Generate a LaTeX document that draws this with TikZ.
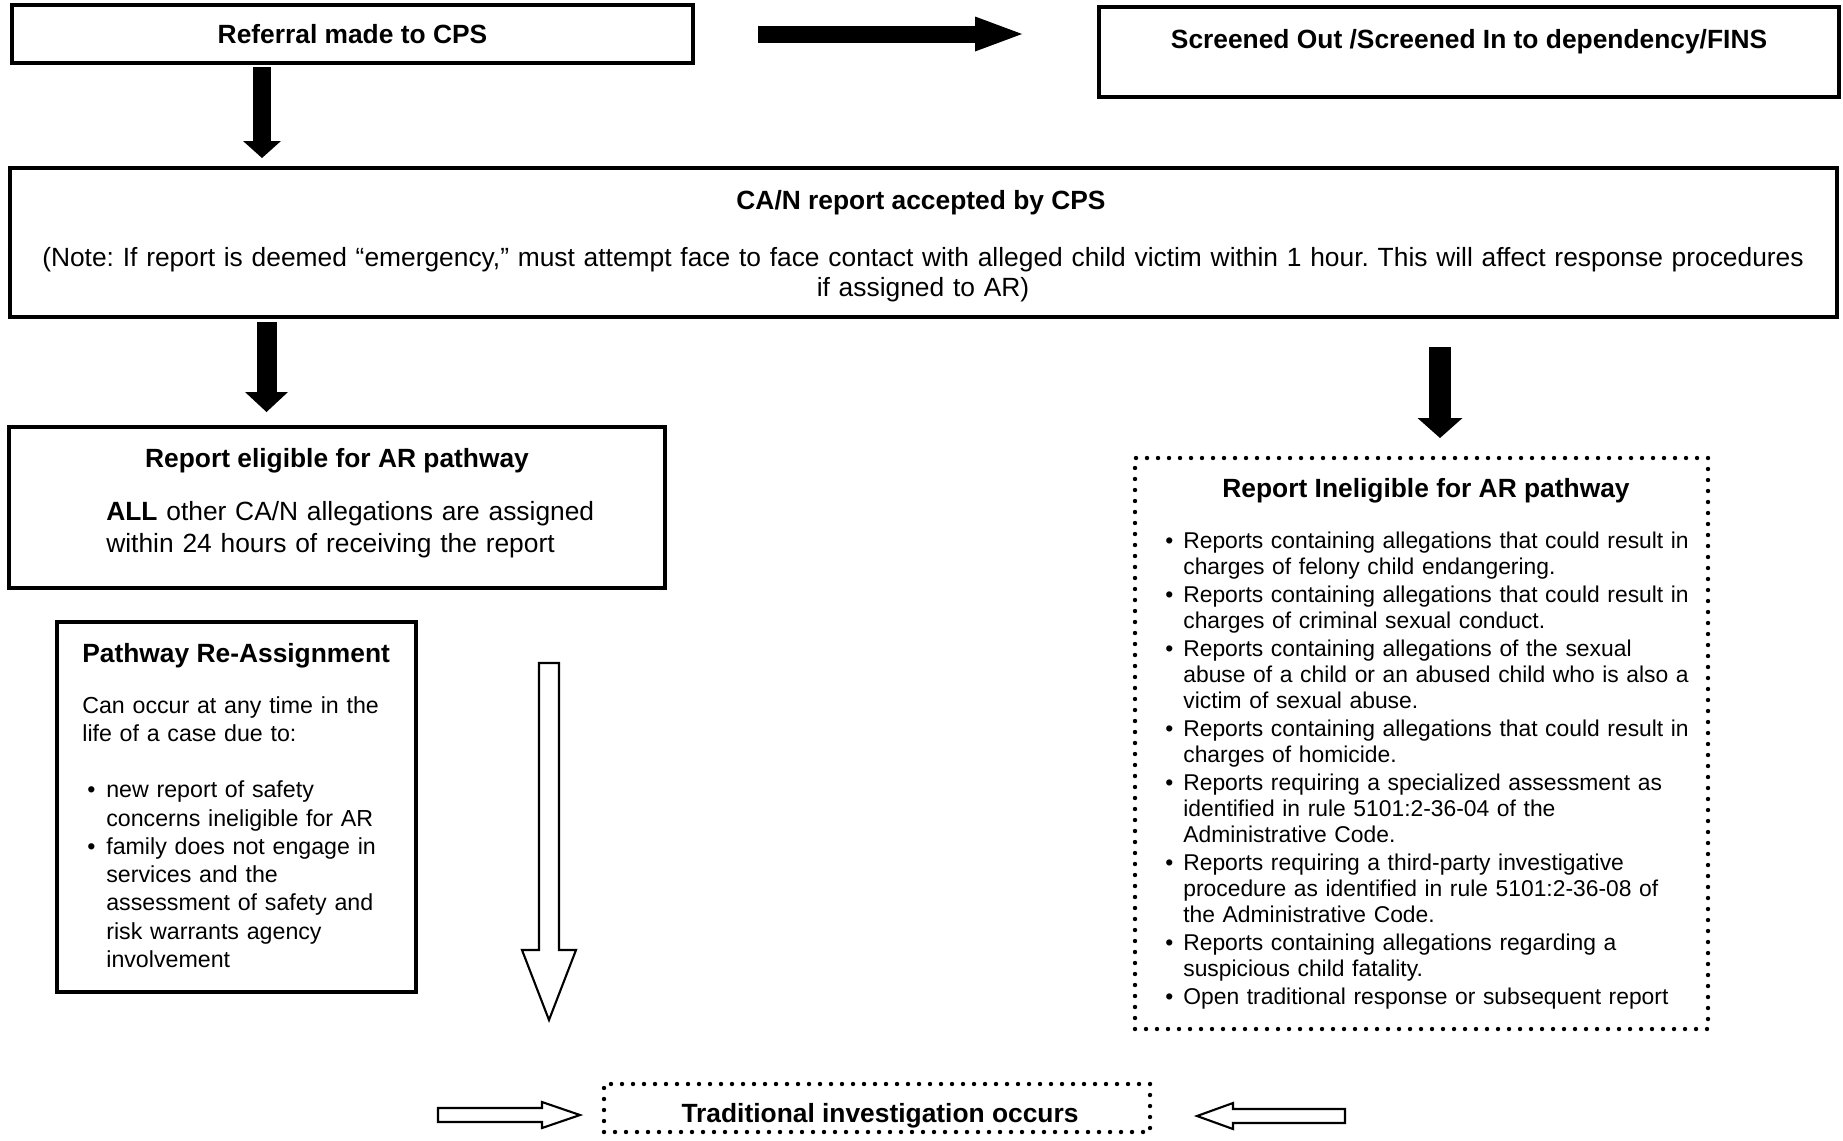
\documentclass[tikz,border=0pt]{standalone}
\usepackage{fontspec}
\setmainfont{Liberation Sans}
\usepackage{tikz}
\usetikzlibrary{arrows.meta}

\newcommand{\lbul}[2][0mm]{\makebox[#2][l]{\hspace{#1}\textbullet}}

\begin{document}
\begin{tikzpicture}[x=0.2mm,y=-0.2mm,
    box node/.style={draw,line width=2.2pt,outer sep=0pt,inner sep=0pt,anchor=north west},
    dot node/.style={draw,line width=2.5pt,line cap=round,dash pattern=on 0pt off 2.2mm,
                     outer sep=0pt,inner sep=0pt,anchor=north west},
    head text/.style={font=\fontsize{15}{18}\selectfont\bfseries,inner sep=0pt,anchor=base},
    body text/.style={inner sep=0pt,anchor=base west,align=left},
    hollow/.style={draw,line width=1.2pt,fill=white,line join=miter}]

  \useasboundingbox (0,0) rectangle (1843,1140);

  % boxes
  \node[box node,minimum width=136.2mm,minimum height=11.6mm,
        font=\fontsize{15}{18}\selectfont\bfseries] (1) at (12,5) {Referral made to CPS};
  \node[box node,minimum width=148mm,minimum height=18mm] (2) at (1099,7) {};
  \node[box node,minimum width=365.4mm,minimum height=29.8mm] (3) at (10,168) {};
  \node[box node,minimum width=131.2mm,minimum height=32.2mm] (4) at (9,427) {};
  \node[dot node,minimum width=114.6mm,minimum height=114.2mm] (5) at (1135,458) {};
  \node[box node,line width=2.8pt,minimum width=71.8mm,minimum height=74mm] (6) at (57,622) {};
  \node[dot node,minimum width=109.2mm,minimum height=9.6mm] (7) at (604,1084) {};

  % texts
  \node[head text] (2a) at (1469,48) {Screened Out /Screened In to dependency/FINS};
  \node[head text] (3a) at (921,209) {CA/N report accepted by CPS};
  \node[inner sep=0pt,anchor=base,text width=364mm,align=center,
        font=\fontsize{15}{17.6}\selectfont] (3b) at (923,266)
    {\frenchspacing(Note: If report is deemed “emergency,” must attempt face to face contact with alleged child victim within 1 hour. This will affect response procedures\\
     if assigned to AR)};
  \node[head text] (4a) at (337,467) {Report eligible for AR pathway};
  \node[body text,text width=110mm,font=\fontsize{15}{18.7}\selectfont] (4b) at (106,520)
    {\textbf{ALL} other CA/N allegations are assigned\\
     within 24 hours of receiving the report};
  \node[head text] (5a) at (1426,497) {Report Ineligible for AR pathway};
  \node[body text,text width=108mm,font=\fontsize{13}{14.8}\selectfont] (5b) at (1163,548)
    {\lbul[0.4mm]{4mm}Reports containing allegations that could result in\\
     \hspace*{4mm}charges of felony child endangering.\\[1.2pt]
     \lbul[0.4mm]{4mm}Reports containing allegations that could result in\\
     \hspace*{4mm}charges of criminal sexual conduct.\\[1.2pt]
     \lbul[0.4mm]{4mm}Reports containing allegations of the sexual\\
     \hspace*{4mm}abuse of a child or an abused child who is also a\\
     \hspace*{4mm}victim of sexual abuse.\\[1.2pt]
     \lbul[0.4mm]{4mm}Reports containing allegations that could result in\\
     \hspace*{4mm}charges of homicide.\\[1.2pt]
     \lbul[0.4mm]{4mm}Reports requiring a specialized assessment as\\
     \hspace*{4mm}identified in rule 5101:2-36-04 of the\\
     \hspace*{4mm}Administrative Code.\\[1.2pt]
     \lbul[0.4mm]{4mm}Reports requiring a third-party investigative\\
     \hspace*{4mm}procedure as identified in rule 5101:2-36-08 of\\
     \hspace*{4mm}the Administrative Code.\\[1.2pt]
     \lbul[0.4mm]{4mm}Reports containing allegations regarding a\\
     \hspace*{4mm}suspicious child fatality.\\[1.2pt]
     \lbul[0.4mm]{4mm}Open traditional response or subsequent report};
  \node[head text,anchor=base west] (6a) at (82,662) {Pathway Re-Assignment};
  \node[body text,text width=66mm,font=\fontsize{13.2}{16.1}\selectfont] (6b) at (82,713)
    {Can occur at any time in the\\
     life of a case due to:\\[16pt]
     \lbul[1mm]{4.8mm}new report of safety\\
     \hspace*{4.8mm}concerns ineligible for AR\\
     \lbul[1mm]{4.8mm}family does not engage in\\
     \hspace*{4.8mm}services and the\\
     \hspace*{4.8mm}assessment of safety and\\
     \hspace*{4.8mm}risk warrants agency\\
     \hspace*{4.8mm}involvement};
  \node[head text] (7a) at (880,1122) {Traditional investigation occurs};

  % solid arrows
  \draw[line width=3.4mm,-{Triangle[width=7mm,length=9.4mm,line width=0pt]},
        shorten <=13mm,shorten >=15.4mm] (1.east) -- (1.east -| 2.west);
  \draw[line width=3.6mm,-{Triangle[width=7.6mm,length=3.4mm,line width=0pt]},
        shorten <=0.8mm,shorten >=2mm] ([xshift=-18.1mm]1.south) -- ([xshift=-18.1mm]1.south |- 3.north);
  \draw[line width=4mm,-{Triangle[width=8.6mm,length=4mm,line width=0pt]},
        shorten <=1mm,shorten >=3mm] ([xshift=-14.1mm]4.north |- 3.south) -- ([xshift=-14.1mm]4.north);
  \draw[line width=4.4mm,-{Triangle[width=9mm,length=4mm,line width=0pt]},
        shorten <=6mm,shorten >=4mm] ([xshift=3.7mm]5.north |- 3.south) -- ([xshift=3.7mm]5.north);

  % hollow arrows
  \coordinate (h1) at (549,663);
  \coordinate (h2) at (438,1115);
  \coordinate (h3) at (1345,1116);
  \draw[hollow] (h1) ++(-10,0) -- ++(0,287) -- ++(-17,0) -- ++(27,70) -- ++(27,-70)
    -- ++(-17,0) -- ++(0,-287) -- cycle;
  \draw[hollow] (h2) ++(0,-7) -- ++(104,0) -- ++(0,-6) -- ++(38,13) -- ++(-38,13)
    -- ++(0,-6) -- ++(-104,0) -- cycle;
  \draw[hollow] (h3) ++(0,-7) -- ++(-112,0) -- ++(0,-6) -- ++(-36,13) -- ++(36,13)
    -- ++(0,-6) -- ++(112,0) -- cycle;
\end{tikzpicture}
\end{document}
